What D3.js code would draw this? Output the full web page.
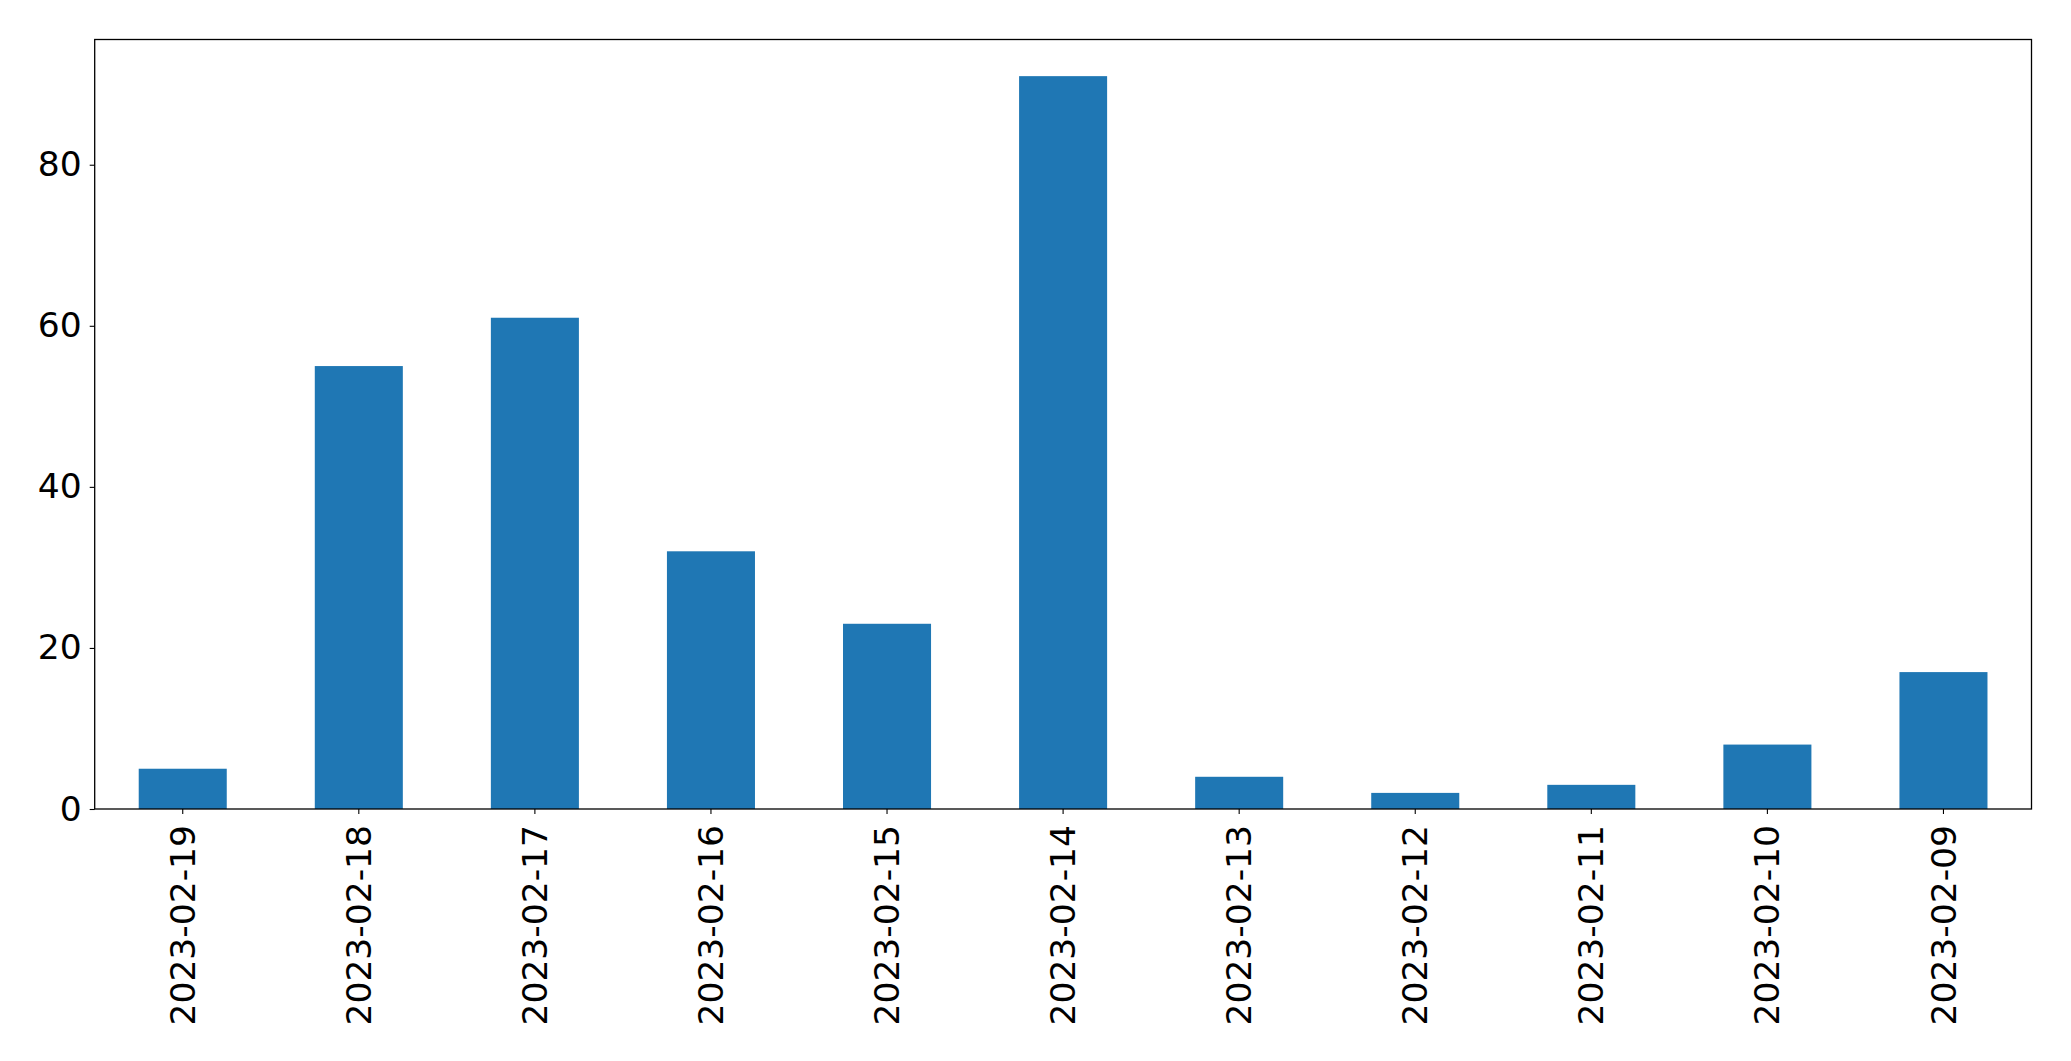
<!DOCTYPE html>
<html>
<head>
<meta charset="utf-8">
<script src="https://cdn.jsdelivr.net/npm/d3@7"></script>
<style>
  html, body { margin: 0; padding: 0; background: #fff; }
  svg { display: block; }
  text { font-family: "DejaVu Sans", sans-serif; }
</style>
</head>
<body>
<script>
const categories = ["2023-02-19","2023-02-18","2023-02-17","2023-02-16","2023-02-15","2023-02-14","2023-02-13","2023-02-12","2023-02-11","2023-02-10","2023-02-09"];
const values = [5, 55, 61, 32, 23, 91, 4, 2, 3, 8, 17];
const yTicks = [0, 20, 40, 60, 80];

const W = 2071, H = 1061;
const margin = {left: 94.7, right: W - 2031.5, top: 39.5, bottom: H - 809};
const fontSize = 34.5;

const svg = d3.select("body").append("svg").attr("width", W).attr("height", H);

const x = d3.scaleBand().domain(categories)
  .range([margin.left, W - margin.right]).paddingInner(0.5).paddingOuter(0.25);
const yMax = d3.max(values) * 1.05;
const y = d3.scaleLinear().domain([0, yMax]).range([H - margin.bottom, margin.top]);

svg.append("g").selectAll("rect").data(values).join("rect")
  .attr("x", (d, i) => x(categories[i]))
  .attr("width", x.bandwidth())
  .attr("y", d => y(d))
  .attr("height", d => y(0) - y(d))
  .attr("fill", "#1f77b4");

// Y axis
const yAxis = d3.axisLeft(y).tickValues(yTicks).tickSize(5).tickPadding(8).tickFormat(d3.format("d"));
const gy = svg.append("g").attr("transform", `translate(${margin.left},0)`).call(yAxis);
gy.select(".domain").remove();
gy.selectAll(".tick line").attr("stroke", "#000").attr("stroke-width", 1.1);
gy.selectAll(".tick text").attr("font-size", fontSize).attr("fill", "#000")
  .attr("font-family", "DejaVu Sans, sans-serif");

// X axis
const xAxis = d3.axisBottom(x).tickSize(5).tickSizeOuter(0);
const gx = svg.append("g").attr("transform", `translate(0,${H - margin.bottom})`).call(xAxis);
gx.select(".domain").remove();
gx.selectAll(".tick line").attr("stroke", "#000").attr("stroke-width", 1.1);
gx.selectAll(".tick text")
  .attr("font-size", fontSize).attr("fill", "#000")
  .attr("font-family", "DejaVu Sans, sans-serif")
  .attr("text-anchor", "end")
  .attr("transform", "rotate(-90)")
  .attr("x", -16).attr("y", 0).attr("dy", "0.35em");

// Frame
svg.append("rect")
  .attr("x", margin.left).attr("y", margin.top)
  .attr("width", W - margin.right - margin.left)
  .attr("height", H - margin.bottom - margin.top)
  .attr("fill", "none").attr("stroke", "#000").attr("stroke-width", 1.3);
</script>
</body>
</html>
